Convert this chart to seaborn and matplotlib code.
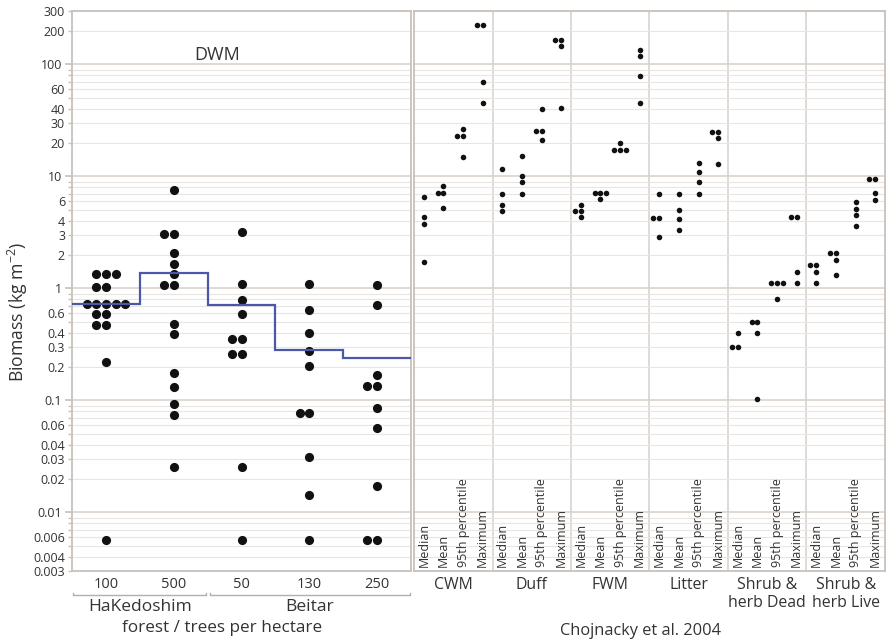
import numpy as np
import pandas as pd
import matplotlib
matplotlib.use('Agg')
import matplotlib.pyplot as plt
import matplotlib.ticker as mticker
import matplotlib.transforms as mtransforms
import seaborn as sns

# ---- DWM measurements (left panel) ----
forest_sites = ['100', '500', '50', '130', '250']
dwm_100 = [1.34, 1.34, 1.34, 1.04, 1.04, 0.73, 0.73, 0.73, 0.73, 0.73,
           0.59, 0.59, 0.47, 0.47, 0.222, 0.0057]
dwm_500 = [7.6, 3.05, 3.05, 2.07, 1.66, 1.34, 1.08, 1.08, 0.485, 0.39,
           0.174, 0.133, 0.092, 0.074, 0.0257]
dwm_50 = [3.22, 1.09, 0.79, 0.595, 0.351, 0.351, 0.258, 0.258, 0.0257, 0.0057]
dwm_130 = [1.09, 0.637, 0.40, 0.279, 0.205, 0.078, 0.078, 0.0313, 0.01425, 0.0057]
dwm_250 = [1.07, 0.71, 0.17, 0.134, 0.134, 0.0855, 0.0567, 0.0171, 0.0057, 0.0057]
dwm_level = [0.73, 1.38, 0.71, 0.283, 0.24]

# ---- Chojnacky et al. 2004 (right panel) ----
fuel_types = ['CWM', 'Duff', 'FWM', 'Litter', 'Shrub &\nherb Dead', 'Shrub &\nherb Live']
stat_names = ['Median', 'Mean', '95th percentile', 'Maximum']
cwm = [[6.5, 4.3, 3.8, 1.72], [8.3, 7.1, 7.1, 5.2],
       [26.3, 22.9, 22.9, 15.0], [227, 227, 69.7, 45.7]]
duff = [[11.6, 7.0, 5.6, 4.92], [15.1, 10.1, 8.9, 7.0],
        [39.8, 25.4, 25.4, 21.0], [166, 166, 145, 40.9]]
fwm = [[5.6, 4.92, 4.92, 4.32], [7.16, 7.16, 7.16, 6.3],
       [20.0, 17.3, 17.3, 17.3], [135, 118, 78.3, 45.7]]
litter = [[6.9, 4.26, 4.26, 2.9], [7.0, 5.02, 4.2, 3.33],
          [13.1, 11.0, 8.97, 7.0], [25.0, 25.0, 22.0, 13.0]]
shrub_dead = [[0.40, 0.30, 0.30], [0.505, 0.505, 0.40, 0.102],
              [1.11, 1.11, 1.11, 0.81], [4.32, 4.32, 1.41, 1.11]]
shrub_live = [[1.62, 1.62, 1.41, 1.11], [2.07, 2.07, 1.8, 1.32],
              [5.88, 5.15, 4.53, 3.62], [9.48, 9.48, 7.16, 6.2]]

y_ticks = [300, 200, 100, 60, 40, 30, 20, 10, 6, 4, 3, 2, 1, 0.6, 0.4, 0.3, 0.2,
           0.1, 0.06, 0.04, 0.03, 0.02, 0.01, 0.006, 0.004, 0.003]

# build long tables
left_vals = [dwm_100, dwm_500, dwm_50, dwm_130, dwm_250]
df_left = pd.DataFrame({
    'site': [s for s, v in zip(forest_sites, left_vals) for _ in v],
    'biomass': [x for v in left_vals for x in v],
})

right_vals = [cwm, duff, fwm, litter, shrub_dead, shrub_live]
rows = []
for gi, grp in enumerate(right_vals):
    for si, vals in enumerate(grp):
        for x in vals:
            rows.append({'pos': gi * 4 + si, 'biomass': x})
df_right = pd.DataFrame(rows)

sns.set_theme(style='white')
plt.rcParams['font.family'] = ['Open Sans', 'DejaVu Sans']
plt.rcParams['mathtext.default'] = 'regular'

W, H = 889, 644
fig = plt.figure(figsize=(W / 100, H / 100), dpi=100)
fig.patch.set_facecolor('white')
ax1 = fig.add_axes([72 / W, 73 / H, 339 / W, 560 / H])
ax2 = fig.add_axes([414 / W, 73 / H, 471 / W, 560 / H], sharey=ax1)

frame_col = '#c9c2bb'
text_col = '#333333'
major_grid = '#d6d0ca'
minor_grid = '#e9e5e1'

for ax in (ax1, ax2):
    ax.set_yscale('log')
    ax.set_ylim(0.003, 300)
    for sp in ax.spines.values():
        sp.set_color(frame_col)
        sp.set_linewidth(1.3)
    ax.set_facecolor('white')

# y axis ticks
ax1.yaxis.set_major_locator(mticker.LogLocator(base=10))
ax1.yaxis.set_minor_locator(mticker.LogLocator(base=10, subs=np.arange(2, 10)))
label_set = set(np.round(y_ticks, 6))


def fmt(v, pos):
    return ('%g' % v) if round(v, 6) in label_set else ''


ax1.yaxis.set_major_formatter(mticker.FuncFormatter(fmt))
ax1.yaxis.set_minor_formatter(mticker.FuncFormatter(fmt))
ax1.tick_params(axis='y', which='both', left=True, color=frame_col, labelsize=9,
                labelcolor=text_col, pad=2)
ax1.tick_params(axis='y', which='major', length=5)
ax1.tick_params(axis='y', which='minor', length=3)
for ax in (ax1, ax2):
    ax.grid(True, axis='y', which='major', color=major_grid, lw=1.1)
    ax.grid(True, axis='y', which='minor', color=minor_grid, lw=0.8)
    ax.set_axisbelow(True)

# ---- left panel ----
sns.swarmplot(data=df_left, x='site', y='biomass', order=forest_sites, ax=ax1,
              color='#111111', size=6.6, linewidth=0, warn_thresh=1)
ax1.stairs(dwm_level, edges=np.arange(-0.5, len(forest_sites)), baseline=None,
           color='#4b58a8', lw=1.6, zorder=3)
ax1.set_xlim(-0.5, 4.5)
ax1.set_ylim(0.003, 300)
ax1.set_xlabel('')
ax1.set_ylabel('')
ax1.tick_params(axis='x', bottom=False, length=0, labelsize=10.5, labelcolor=text_col, pad=4)
ax1.text(0.428, 0.921, 'DWM', transform=ax1.transAxes, ha='center', va='center',
         fontsize=13, color=text_col)

trans1 = mtransforms.blended_transform_factory(ax1.transData, ax1.transAxes)
for x0, x1, lab, xc in [(-0.49, 1.47, 'HaKedoshim', 0.5), (1.53, 4.48, 'Beitar', 3.0)]:
    ax1.plot([x0, x0, x1, x1], [-0.039, -0.043, -0.043, -0.039], transform=trans1,
             color='#b5aea7', lw=1.0, clip_on=False)
    ax1.text(xc, -0.065, lab, transform=trans1, ha='center', va='center',
             fontsize=12.5, color=text_col)
fig.text(222 / W, 1 - 628 / H, 'forest / trees per hectare', ha='center', va='center',
         fontsize=12.3, color=text_col)
fig.text(18 / W, 1 - 312 / H, 'Biomass (kg m$^{-2}$)', rotation=90, ha='center',
         va='center', fontsize=12.7, color=text_col)

# ---- right panel ----
sns.swarmplot(data=df_right, x='pos', y='biomass', native_scale=True, ax=ax2,
              color='#111111', size=4, linewidth=0, warn_thresh=1)
ax2.set_xlim(-0.5, 23.5)
ax2.set_ylim(0.003, 300)
ax2.set_xlabel('')
ax2.set_ylabel('')
ax2.tick_params(axis='y', which='both', left=False, labelleft=False)
ax2.set_xticks([gi * 4 + 1.5 for gi in range(len(fuel_types))])
ax2.set_xticklabels(fuel_types, fontsize=11.4, color=text_col, linespacing=1.2)
ax2.set_xticks([gi * 4 + 3.5 for gi in range(len(fuel_types) - 1)], minor=True)
ax2.tick_params(axis='x', which='both', bottom=False, length=0, pad=4)
ax2.grid(True, axis='x', which='minor', color=major_grid, lw=1.1)
ax2.grid(False, axis='x', which='major')

trans2 = mtransforms.blended_transform_factory(ax2.transData, ax2.transAxes)
for gi in range(len(fuel_types)):
    for si, st in enumerate(stat_names):
        ax2.text(gi * 4 + si, 0.008, st, transform=trans2, rotation=90,
                 ha='center', va='bottom', fontsize=9, color=text_col)

fig.text(641 / W, 1 - 631 / H, 'Chojnacky et al. 2004', ha='center', va='center',
         fontsize=11.8, color=text_col)

fig.savefig('out.png', dpi=100, facecolor='white')
